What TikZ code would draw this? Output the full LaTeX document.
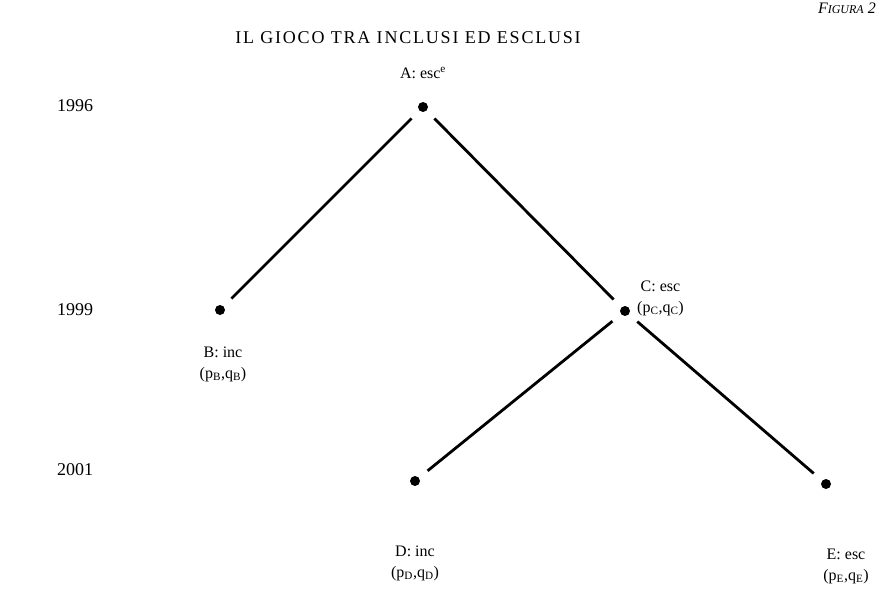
\documentclass[tikz,border=0pt]{standalone}
\usepackage{fontspec}
\setmainfont{Liberation Serif}
\usetikzlibrary{positioning, calc}

\begin{document}
\begin{tikzpicture}[x=1pt, y=-1pt,
    every node/.style={font=\fontsize{16}{21}\selectfont, inner sep=1pt},
    dot/.style={circle, fill=black, inner sep=0pt, minimum size=10pt},
    year/.style={font=\fontsize{18}{20}\selectfont},
    branch/.style={line width=2.8pt, shorten >=11pt, shorten <=11pt}]
  \useasboundingbox (0,0) rectangle (880,591);

  % heading
  \node[anchor=base east, font=\itshape\fontsize{16}{16}\selectfont] (fig) at (877,14)
        {F{\fontsize{12}{12}\selectfont IGURA} 2};
  \node[font=\fontsize{18}{20}\addfontfeature{LetterSpace=10}\selectfont] (title) at (408,38)
        {IL GIOCO TRA INCLUSI ED ESCLUSI};

  % years
  \node[year] (y1996) at (75,106) {1996};
  \node[year] (y1999) at (75,310) {1999};
  \node[year] (y2001) at (75,470) {2001};

  % game tree
  \node[dot] (a) at (423,107) {};
  \node[dot] (b) at (220,310) {};
  \node[dot] (c) at (625,311) {};
  \node[dot] (d) at (415,481) {};
  \node[dot] (e) at (826,484) {};

  \node (lab-a) at (423,73) {A: esc\textsuperscript{e}};
  \node[align=center] (lab-b) at (223,364) {B: inc\\(p\textsubscript{B},q\textsubscript{B})};
  \node[align=center, anchor=west] (lab-c) at (636,298) {C: esc\\(p\textsubscript{C},q\textsubscript{C})};
  \node[align=center] (lab-d) at (415,563) {D: inc\\(p\textsubscript{D},q\textsubscript{D})};
  \node[align=center] (lab-e) at (846,566) {E: esc\\(p\textsubscript{E},q\textsubscript{E})};

  \draw[branch] (a) -- (b);
  \draw[branch] (a) -- (c);
  \draw[branch] (c) -- (d);
  \draw[branch] (c) -- (e);
\end{tikzpicture}
\end{document}
